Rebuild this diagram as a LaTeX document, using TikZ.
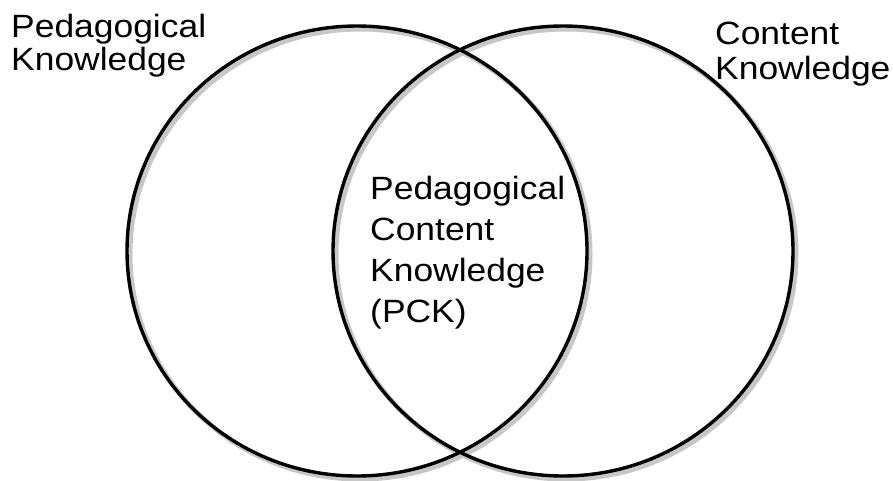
\documentclass[tikz,border=0pt]{standalone}
\usepackage{fontspec}
\setmainfont{Liberation Sans}[FakeStretch=1.1]
\begin{document}
\begin{tikzpicture}[x=1pt,y=-1pt,
  ring/.style={line width=3.4pt,draw=black},
  ringshadow/.style={line width=5pt,draw=black!22},
  lbl/.style={anchor=north west,inner sep=0pt,align=left,text=black}]
\useasboundingbox (0,0) rectangle (893,481);
% shadows
\draw[ringshadow] (360,254) ellipse [x radius=230, y radius=225];
\draw[ringshadow] (566,254) ellipse [x radius=230, y radius=225];
% circles
\draw[ring] (357,251) ellipse [x radius=230, y radius=225];
\draw[ring] (563,251) ellipse [x radius=230, y radius=225];
% labels
\node[lbl,font=\fontsize{32.2}{33}\selectfont] (pk) at (11,14) {Pedagogical\\Knowledge};
\node[lbl,font=\fontsize{32.2}{35}\selectfont] (ck) at (715,22) {Content\\Knowledge};
\node[lbl,font=\fontsize{32.2}{41}\selectfont] (pck) at (370,176) {Pedagogical\\Content\\Knowledge\\(PCK)};
\end{tikzpicture}
\end{document}
